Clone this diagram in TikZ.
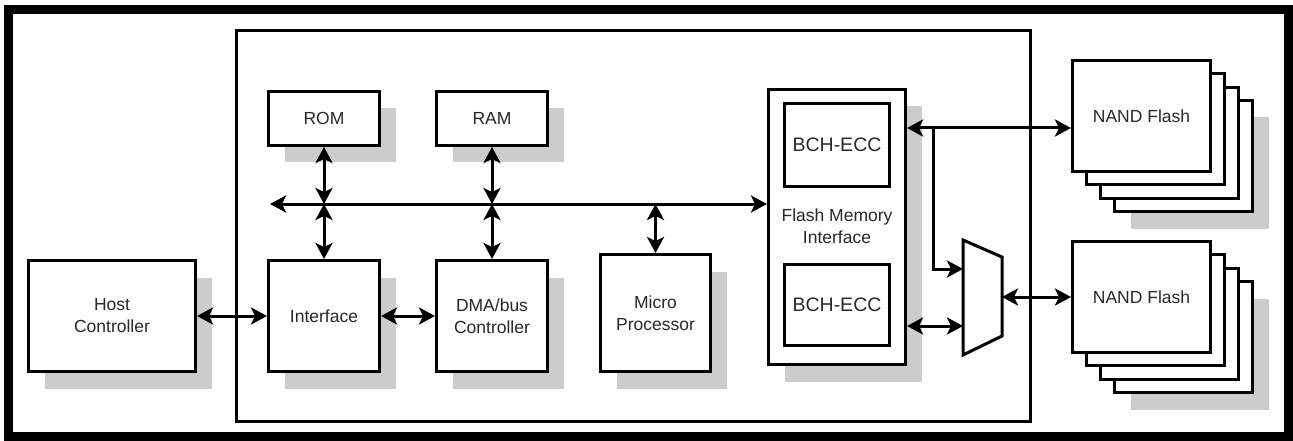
\documentclass[tikz,border=0pt]{standalone}
\usepackage{fontspec}
\setmainfont{Liberation Sans}
\usetikzlibrary{arrows.meta,shadows}
\definecolor{shadowgray}{RGB}{204,204,204}
\definecolor{txt}{RGB}{40,40,40}
\begin{document}
\begin{tikzpicture}[x=1pt,y=-1pt,
  blk/.style={draw=black,line width=3pt,fill=white,inner sep=0pt,align=center,
    text=txt,font=\fontsize{17.5}{22}\selectfont},
  shd/.style={drop shadow={shadow xshift=16pt,shadow yshift=-17pt,fill=shadowgray,opacity=1}},
  lbl/.style={inner sep=0pt,align=center,text=txt,font=\fontsize{17.5}{22}\selectfont},
  tip/.tip={Stealth[length=16pt,width=17pt,inset=4pt]},
  dbl/.style={line width=3pt,tip-tip},
  sgl/.style={line width=3pt,-tip}
]
\useasboundingbox (0,0) rectangle (1293,441);
\fill[white] (0,0) rectangle (1293,441);
% outer frame
\draw[line width=9pt] (8,10) rectangle (1288,436);
% chip outline
\draw[line width=3pt] (236.5,31) rectangle (1030,421);

% blocks
\node[blk,shd,minimum width=167pt,minimum height=111pt] (host) at (112,316) {Host\\Controller};
\node[blk,shd,minimum width=111pt,minimum height=111pt] (iface) at (324,316) {Interface};
\node[blk,shd,minimum width=111pt,minimum height=111pt] (dma) at (492,316) {DMA/bus\\Controller};
\node[blk,shd,minimum width=111pt,minimum height=54pt] (rom) at (324,118.5) {ROM};
\node[blk,shd,minimum width=111pt,minimum height=54pt] (ram) at (492,118.5) {RAM};
\node[blk,shd,minimum width=110pt,minimum height=117pt] (micro) at (655.5,313) {Micro\\Processor};

% flash memory interface
\node[blk,shd,minimum width=137pt,minimum height=275pt] (fmi) at (837,227) {};
\node[blk,minimum width=105pt,minimum height=83pt,font=\fontsize{19.5}{24}\selectfont] (bch1) at (837,145) {BCH-ECC};
\node[blk,minimum width=105pt,minimum height=81pt,font=\fontsize{19.5}{24}\selectfont] (bch2) at (837,305) {BCH-ECC};
\node[lbl] (fmil) at (837,226) {Flash Memory\\Interface};

% NAND stacks
\node[blk,shd,minimum width=138pt,minimum height=111pt] (n1d) at (1183.5,156) {};
\node[blk,minimum width=138pt,minimum height=111pt] (n1c) at (1169.5,143) {};
\node[blk,minimum width=138pt,minimum height=111pt] (n1b) at (1155.5,129) {};
\node[blk,minimum width=138pt,minimum height=111pt] (n1) at (1141.5,116) {NAND Flash};

\node[blk,shd,minimum width=138pt,minimum height=111pt] (n2d) at (1183.5,337) {};
\node[blk,minimum width=138pt,minimum height=111pt] (n2c) at (1169.5,324) {};
\node[blk,minimum width=138pt,minimum height=111pt] (n2b) at (1155.5,310) {};
\node[blk,minimum width=138pt,minimum height=111pt] (n2) at (1141.5,297) {NAND Flash};

% multiplexer
\coordinate (muxtl) at (963,240);
\coordinate (muxtr) at (1002,257);
\coordinate (muxbr) at (1002,336);
\coordinate (muxbl) at (963,355);
\draw[line width=3pt,fill=white,line join=miter] (muxtl) -- (muxtr) -- (muxbr) -- (muxbl) -- cycle;
\coordinate (muxl) at (963,269);
\coordinate (muxl2) at (963,326);
\coordinate (muxr) at (1002,297);

% bus
\coordinate (busL) at (270,204);
\draw[dbl] (busL) -- (busL -| fmi.west);
\draw[dbl] (rom.south) -- (rom.south |- busL);
\draw[dbl] (rom.south |- busL) -- (iface.north);
\draw[dbl] (ram.south) -- (ram.south |- busL);
\draw[dbl] (ram.south |- busL) -- (dma.north);
\draw[dbl] (micro.north |- busL) -- (micro.north);

% horizontal links
\draw[dbl] (host.east) -- (iface.west);
\draw[dbl] (iface.east) -- (dma.west);

% flash side
\coordinate (ya) at (0,128);
\coordinate (br) at (933,128);
\draw[dbl] (fmi.east |- ya) -- (n1.west |- ya);
\draw[sgl,line join=miter] (br) -- (br |- muxl) -- (muxl);
\draw[dbl] (fmi.east |- muxl2) -- (muxl2);
\draw[dbl] (muxr) -- (n2.west |- muxr);
\end{tikzpicture}
\end{document}
